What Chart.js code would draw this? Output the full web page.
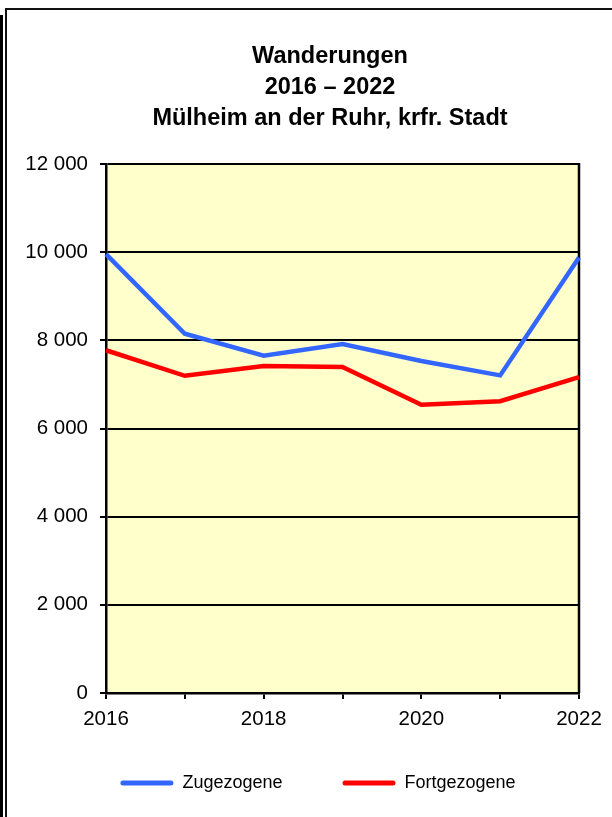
<!DOCTYPE html>
<html>
<head>
<meta charset="utf-8">
<script src="https://cdn.jsdelivr.net/npm/chart.js@4"></script>
<style>
  html, body { margin: 0; padding: 0; background: #fff; }
  #wrap { position: relative; width: 612px; height: 817px; overflow: hidden; }
  #bar { position: absolute; left: 0; top: 15px; width: 3px; height: 802px; background: #000; }
  #frame { position: absolute; left: 5px; top: 8px; width: 640px; height: 840px;
           border-left: 2px solid #111; border-top: 2px solid #111; }
  #title { position: absolute; left: 130px; top: 40px; width: 400px; text-align: center;
           font: bold 23.5px/31px "Liberation Sans", Arial, sans-serif; color: #000; }
  canvas { position: absolute; left: 0; top: 0; }
</style>
</head>
<body>
<div id="wrap">
  <div id="bar"></div>
  <div id="frame"></div>
  <canvas id="chart" width="612" height="817"></canvas>
  <div id="title">Wanderungen<br>2016 – 2022<br>Mülheim an der Ruhr, krfr. Stadt</div>
</div>
<script>
// Werte
const years = ["2016", "2017", "2018", "2019", "2020", "2021", "2022"];
const zugezogene = [9955, 8150, 7650, 7915, 7530, 7205, 9880];
const fortgezogene = [7775, 7195, 7415, 7395, 6540, 6620, 7165];
const seriesNames = ["Zugezogene", "Fortgezogene"];
const seriesColors = ["#3366FF", "#FF0000"];
const yMin = 0, yMax = 12000, yStep = 2000;

const FONT = "'Liberation Sans', Arial, sans-serif";

function fmt(v){
  // 12000 -> "12 000"
  return String(v).replace(/\B(?=(\d{3})+(?!\d))/g, " ");
}

// gelber Hintergrund + rechter Rahmen der Zeichenfläche
const plotFrame = {
  id: "plotFrame",
  beforeDraw(chart){
    const { ctx, chartArea: a } = chart;
    ctx.save();
    ctx.fillStyle = "#FFFFCC";
    ctx.fillRect(a.left, a.top, a.right - a.left, a.bottom - a.top);
    ctx.restore();
  },
  beforeDatasetsDraw(chart){
    const { ctx, chartArea: a } = chart;
    ctx.save();
    ctx.strokeStyle = "#000";
    ctx.lineWidth = 2.5;
    ctx.beginPath();
    ctx.moveTo(a.right, a.top - 1);
    ctx.lineTo(a.right, a.bottom);
    ctx.stroke();
    ctx.restore();
  }
};

// Legende etwas verschieben (im Original nicht mittig unter dem Canvas)
const legendShift = {
  id: "legendShift",
  afterLayout(chart){
    const lg = chart.legend;
    if (!lg) return;
    const dx = 318 - (lg.left + lg.right) / 2;
    const dy = -17;
    lg.left += dx; lg.right += dx;
    lg.top += dy; lg.bottom += dy;
  }
};

new Chart(document.getElementById("chart"), {
  type: "line",
  data: {
    labels: years,
    datasets: [
      { label: seriesNames[0], data: zugezogene, borderColor: seriesColors[0], backgroundColor: seriesColors[0],
        borderWidth: 4.5, pointRadius: 0, tension: 0, fill: false },
      { label: seriesNames[1], data: fortgezogene, borderColor: seriesColors[1], backgroundColor: seriesColors[1],
        borderWidth: 4.5, pointRadius: 0, tension: 0, fill: false }
    ]
  },
  options: {
    responsive: false,
    animation: false,
    layout: { padding: { left: 0, right: 33, top: 164, bottom: -2 } },
    plugins: {
      title: { display: false },
      tooltip: { enabled: false },
      legend: {
        position: "bottom",
        labels: {
          boxWidth: 53,
          boxHeight: 5,
          padding: 60,
          color: "#000",
          font: { family: FONT, size: 18 },
          useBorderRadius: true,
          borderRadius: 2.5,
          generateLabels(chart){
            return chart.data.datasets.map((ds, i) => ({
              text: ds.label,
              fillStyle: ds.borderColor,
              strokeStyle: ds.borderColor,
              lineWidth: 0,
              borderRadius: 2.5,
              hidden: false,
              datasetIndex: i
            }));
          }
        }
      }
    },
    scales: {
      x: {
        type: "category",
        offset: false,
        afterFit(s){ s.height = 38; },
        border: { color: "#000", width: 2.5 },
        grid: { drawOnChartArea: false, drawTicks: true, tickLength: 6, color: "#000", lineWidth: 2 },
        ticks: {
          autoSkip: false,
          maxRotation: 0,
          padding: 8,
          color: "#000",
          font: { family: FONT, size: 20.5 },
          callback(val, i){ return i % 2 === 0 ? years[i] : ""; }
        }
      },
      y: {
        min: yMin,
        max: yMax,
        afterFit(s){ s.width = 106; },
        border: { color: "#000", width: 2.5 },
        grid: { color: "#000", lineWidth: 2, tickLength: 6 },
        ticks: {
          stepSize: yStep,
          padding: 12,
          color: "#000",
          font: { family: FONT, size: 20.5 },
          callback(v){ return fmt(v); }
        }
      }
    }
  },
  plugins: [plotFrame, legendShift]
});
</script>
</body>
</html>
